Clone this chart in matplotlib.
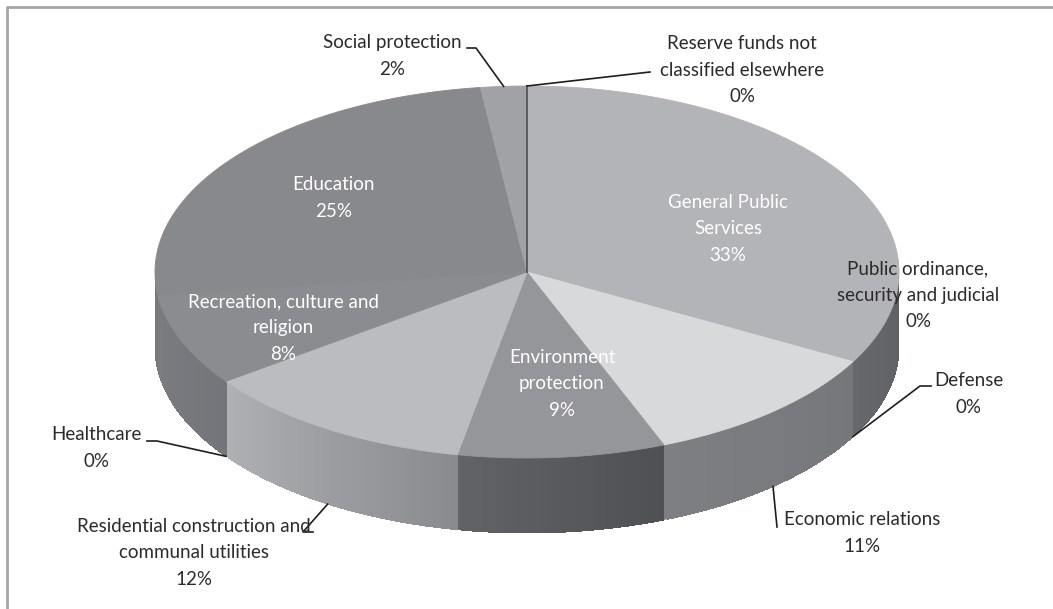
import numpy as np
import matplotlib.pyplot as plt
from matplotlib.colors import to_rgb
from matplotlib.patches import Polygon

plt.rcParams['font.family'] = ['Lato', 'DejaVu Sans']

# data
categories = ['General Public Services', 'Public ordinance, security and judicial', 'Defense',
              'Economic relations', 'Environment protection',
              'Residential construction and communal utilities', 'Healthcare',
              'Recreation, culture and religion', 'Education', 'Social protection',
              'Reserve funds not classified elsewhere']
shares = [33, 0, 0, 11, 9, 12, 0, 8, 25, 2, 0]
label_lines = ['General Public\nServices', 'Public ordinance,\nsecurity and judicial', 'Defense',
               'Economic relations', 'Environment\nprotection',
               'Residential construction and\ncommunal utilities', 'Healthcare',
               'Recreation, culture and\nreligion', 'Education', 'Social protection',
               'Reserve funds not\nclassified elsewhere']

# styles
top_colors = ['#b3b4b8', '#b3b4b8', '#b3b4b8', '#d8d9db', '#95969a', '#bbbcc0', '#bbbcc0',
              '#8b8c90', '#88898d', '#a1a2a6', '#6a6b6f']
side_colors = [('#67686c', '#5f6064'), ('#67686c', '#5f6064'), ('#67686c', '#5f6064'),
               ('#7e7f83', '#76777b'), ('#626367', '#4f5054'), ('#b0b1b5', '#8a8b8f'),
               ('#b0b1b5', '#8a8b8f'), ('#7c7d81', '#74757a'), ('#7a7b7f', '#77787c'),
               ('#7a7b7f', '#77787c'), ('#7a7b7f', '#77787c')]
inside = [True, False, False, False, True, False, False, True, True, False, False]

# layout (pixels): label block centre, leader path from rim point to label
cx, cy, a, b, depth = 527, 272, 372, 186, 75
label_pos = {
    0: (728, 229), 1: (918, 295), 2: (969, 394), 3: (862, 533), 4: (562, 384),
    5: (194, 553), 6: (96, 448), 7: (283, 328), 8: (334, 198), 9: (392, 56),
    10: (742, 70),
}
leader_ends = {
    2: [(920, 386), (931, 386)],
    3: [(777, 527)],
    5: [(303, 532), (313, 532)],
    6: [(157, 441), (147, 441)],
    9: [(476, 48), (467, 48)],
    10: [(650, 72)],
}
leader_on_side = {2: True, 3: True, 5: True, 6: True, 9: False, 10: False}

total = sum(shares)
bounds = 90 - 360 * np.concatenate([[0], np.cumsum(shares)]) / total


def rim(t, drop=0.0):
    r = np.radians(t)
    return cx + a * np.cos(r), cy - b * np.sin(r) + drop


fig = plt.figure(figsize=(10.53, 6.09), dpi=100)
ax = fig.add_axes([0, 0, 1, 1])
ax.set_xlim(0, 1053)
ax.set_ylim(609, 0)
ax.axis('off')

# frame lines
ax.plot([7, 7, 1053], [609, 7, 7], color='#a5a5a5', lw=2, solid_capstyle='butt')

# side walls (front half only), drawn as overlapping strips for a smooth gradient
for i in range(len(shares)):
    t_start, t_end = bounds[i], bounds[i + 1]
    lo, hi = max(t_end, -180), min(t_start, 0)
    if hi - lo <= 0:
        continue
    c_left = np.array(to_rgb(side_colors[i][0]))
    c_right = np.array(to_rgb(side_colors[i][1]))
    n = max(int((hi - lo) * 1.5), 2)
    ts = np.linspace(lo, hi, n + 1)
    for k in range(n):
        seg = np.linspace(ts[k], hi, max(int((hi - ts[k]) * 2), 2))
        top = [rim(t) for t in seg]
        bot = [rim(t, depth) for t in seg[::-1]]
        f = (k + 0.5) / n
        col = c_left + f * (c_right - c_left)
        ax.add_patch(Polygon(top + bot, closed=True, facecolor=col, edgecolor='none',
                             lw=0, antialiased=(k == 0)))

# top faces
for i in range(len(shares)):
    t_start, t_end = bounds[i], bounds[i + 1]
    if shares[i] == 0:
        if np.sin(np.radians(t_start)) > 0:
            x, y = rim(t_start)
            ax.plot([cx, x], [cy, y], color='#55565a', lw=1.3, zorder=3)
        continue
    ts = np.linspace(t_start, t_end, 200)
    pts = [(cx, cy)] + [rim(t) for t in ts]
    ax.add_patch(Polygon(pts, closed=True, facecolor=top_colors[i], edgecolor=top_colors[i], lw=0.6))

# labels and leader lines
for i, name in enumerate(categories):
    x, y = label_pos[i]
    txt = f'{label_lines[i]}\n{shares[i]}%'
    color = 'white' if inside[i] else '#2b2b2b'
    ax.text(x, y, txt, ha='center', va='center', fontsize=13.5, color=color,
            linespacing=1.68, zorder=5)
    if i in leader_ends:
        t_mid = (bounds[i] + bounds[i + 1]) / 2
        sx, sy = rim(t_mid, depth if leader_on_side[i] else 0)
        path = [(sx, sy)] + leader_ends[i]
        ax.plot([p[0] for p in path], [p[1] for p in path], color='#1e1e1e', lw=1.2, zorder=4)

fig.savefig('out.png', dpi=100)
